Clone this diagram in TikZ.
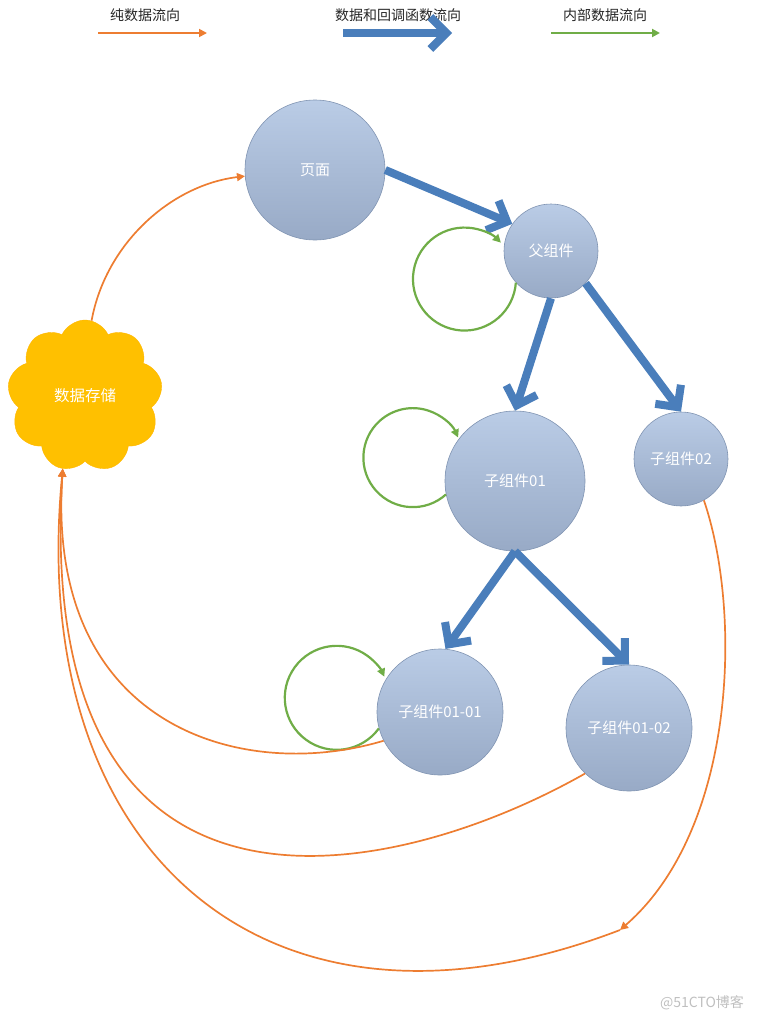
\documentclass[tikz,border=0pt]{standalone}
\usepackage{fontspec}
\setmainfont{Noto Sans CJK SC}
\usepackage{tikz}
\usetikzlibrary{arrows.meta}
\usetikzlibrary{shapes.symbols}
\definecolor{flowOrange}{RGB}{237,125,49}
\definecolor{flowBlue}{RGB}{74,126,187}
\definecolor{flowGreen}{RGB}{112,173,71}
\definecolor{cloudGold}{RGB}{255,192,0}
\definecolor{compTop}{RGB}{186,204,230}
\definecolor{compBottom}{RGB}{152,170,198}
\definecolor{compLine}{RGB}{128,148,178}
\tikzstyle{comp} = [circle,draw=compLine,line width=0.6pt,top color=compTop,bottom color=compBottom,text=white,inner sep=0pt,font=\fontsize{15}{18}\selectfont]
\tikzstyle{storage} = [cloud,cloud puffs=9,cloud puff arc=130,aspect=1,fill=cloudGold,draw=cloudGold!85!orange,minimum width=155pt,minimum height=152pt,text=white,font=\fontsize{15.5}{18}\selectfont]
\tikzstyle{pureflow} = [draw=flowOrange,line width=1.7pt,-{Triangle[length=8pt,width=8pt]}]
\tikzstyle{cbflow} = [draw=flowBlue,line width=8pt,-{Straight Barb[length=16pt,width=32pt]}]
\tikzstyle{innerflow} = [draw=flowGreen,line width=2.2pt,-{Triangle[length=8pt,width=8pt]}]
\tikzstyle{legend} = [font=\fontsize{14}{16}\selectfont,text=black!85]

\begin{document}
\begin{tikzpicture}[x=1pt,y=1pt]
	\useasboundingbox (0,0) rectangle (762,-1028);
	% legend
	\node[legend] (l1) at (145,-15) {纯数据流向};
	\node[legend] (l2) at (398,-15) {数据和回调函数流向};
	\node[legend] (l3) at (605,-15) {内部数据流向};
	\coordinate (l1a) at (98,-33);
	\coordinate (l1b) at (207,-33);
	\coordinate (l2a) at (343,-33);
	\coordinate (l2b) at (452,-33);
	\coordinate (l3a) at (551,-33);
	\coordinate (l3b) at (660,-33);
	\draw[pureflow] (l1a) -- (l1b);
	\draw[cbflow] (l2a) -- (l2b);
	\draw[innerflow] (l3a) -- (l3b);

	\node[comp,minimum size=140pt] (page) at (315,-170) {页面};
	\node[comp,minimum size=94pt] (fu) at (551,-251) {父组件};
	\node[comp,minimum size=140pt] (c1) at (515,-481) {子组件01};
	\node[comp,minimum size=94pt] (c2) at (681,-459) {子组件02};
	\node[comp,minimum size=126pt] (c11) at (440,-712) {子组件01-01};
	\node[comp,minimum size=126pt] (c12) at (629,-728) {子组件01-02};
	\node[storage] (store) at (85,-396) {数据存储};
	\coordinate (turn) at (620,-930);
	\node[text=black!25,font=\fontsize{14}{16}\selectfont] (mark) at (702,-1003) {@51CTO博客};

	\draw[cbflow] (page.east) -- (fu.145);
	\draw[cbflow] (fu.south) -- (c1.north);
	\draw[cbflow] (fu.-43) -- (c2.north);
	\draw[cbflow] (c1.south) -- (c11.85);
	\draw[cbflow] (c1.south) -- (c12.north);

	\draw[innerflow] (fu.222) arc[start angle=-4,end angle=-315,radius=51.5pt];
	\draw[innerflow] (c1.191) arc[start angle=-48,end angle=-336,radius=49.5pt];
	\draw[innerflow] (c11.195) arc[start angle=-36,end angle=-336,radius=52pt];

	\draw[pureflow] (store.85) .. controls +(14,77) and +(-74,-9) .. (page.185);
	\draw[pureflow] (c11.207) .. controls +(-140,-42) and +(-17,-260) .. (store.-107);
	\draw[pureflow] (c12.226) .. controls +(-190,-108) and +(-30,-495) .. (store.-107);
	\draw[pureflow] (c2.-61) .. controls +(39,-115) and +(115,100) .. (turn);
	\draw[pureflow] (turn) .. controls +(-352,-135) and +(-37,-385) .. (store.-107);
\end{tikzpicture}
\end{document}
